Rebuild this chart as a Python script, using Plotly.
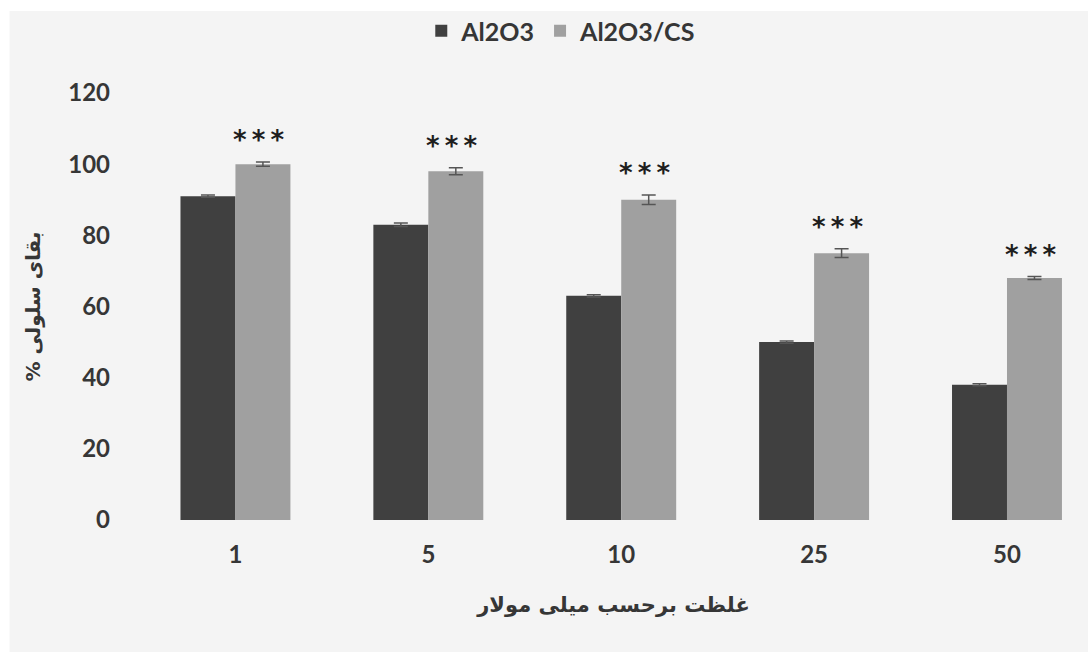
import plotly.graph_objects as go

# Concentration groups (mM) and cell viability (%) per treatment
categories = ["1", "5", "10", "25", "50"]
al2o3 = [91, 83, 63, 50, 38]
al2o3_err = [0.3, 0.5, 0.3, 0.3, 0.3]
al2o3_cs = [100, 98, 90, 75, 68]
al2o3_cs_err = [0.6, 1.0, 1.3, 1.2, 0.4]
significance = ["***", "***", "***", "***", "***"]
y_ticks = [0, 20, 40, 60, 80, 100, 120]

# Pixel geometry of the plotting area
W, H = 1088, 652
PL, PR, PT, PB = 138.5, 1088, 93, 520

def px_x(p):
    return (p - PL) / (PR - PL)

def px_y(p):
    return (PB - p) / (PB - PT)

TXT = "#363636"
FONT = "Lato"
ARABIC = "DejaVu Sans"

fig = go.Figure()
fig.add_trace(go.Bar(
    name="Al2O3", x=categories, y=al2o3,
    marker=dict(color="#404040", line=dict(width=0)),
    error_y=dict(type="data", array=al2o3_err, color="#555555", thickness=1.5, width=7),
))
fig.add_trace(go.Bar(
    name="Al2O3/CS", x=categories, y=al2o3_cs,
    marker=dict(color="#a0a0a0", line=dict(width=0)),
    error_y=dict(type="data", array=al2o3_cs_err, color="#555555", thickness=1.5, width=7),
))

# Significance markers above the Al2O3/CS bars
for i, (v, e, s) in enumerate(zip(al2o3_cs, al2o3_cs_err, significance)):
    fig.add_annotation(
        x=i, y=v + e, xref="x", yref="y", text="\u2009".join(s), showarrow=False,
        xshift=24, yshift=22, yanchor="middle",
        font=dict(family="DejaVu Sans", size=26, color="#1e1e1e", weight="bold"),
    )

# Light grey panel behind the chart, with a thin white border on top/left
fig.add_shape(
    type="rect", xref="paper", yref="paper", layer="below",
    x0=px_x(9), x1=px_x(W + 5), y0=px_y(H + 5), y1=px_y(11),
    fillcolor="#f4f4f4", line=dict(width=0),
)

fig.update_layout(
    width=W, height=H,
    margin=dict(l=PL, r=W - PR, t=PT, b=H - PB, pad=0),
    paper_bgcolor="white", plot_bgcolor="rgba(0,0,0,0)",
    barmode="group", bargap=0.43, bargroupgap=0,
    font=dict(family=FONT, color=TXT, size=22, weight="bold"),
    showlegend=True,
    legend=dict(
        orientation="h", x=px_x(561), y=px_y(31), xanchor="center", yanchor="middle",
        font=dict(family=FONT, size=25, color=TXT, weight="bold"),
        bgcolor="rgba(0,0,0,0)", itemwidth=30, traceorder="normal",
    ),
    xaxis=dict(
        type="category", range=[-0.5, 4.42],
        showline=False, showgrid=False, zeroline=False, ticks="",
        ticklabelstandoff=18,
        tickfont=dict(family=FONT, size=24, color=TXT, weight="bold"),
        title=dict(text="غلظت برحسب میلی مولار", standoff=30,
                   font=dict(family=ARABIC, size=21, color=TXT, weight="bold")),
    ),
    yaxis=dict(
        range=[0, 120], tickvals=y_ticks,
        showline=False, showgrid=False, zeroline=False, ticks="",
        ticklabelstandoff=28,
        tickfont=dict(family=FONT, size=24, color=TXT, weight="bold"),
        title=dict(text="% بقای سلولی", standoff=22,
                   font=dict(family=ARABIC, size=20, color=TXT, weight="bold")),
    ),
)

fig.write_html("out.html")
